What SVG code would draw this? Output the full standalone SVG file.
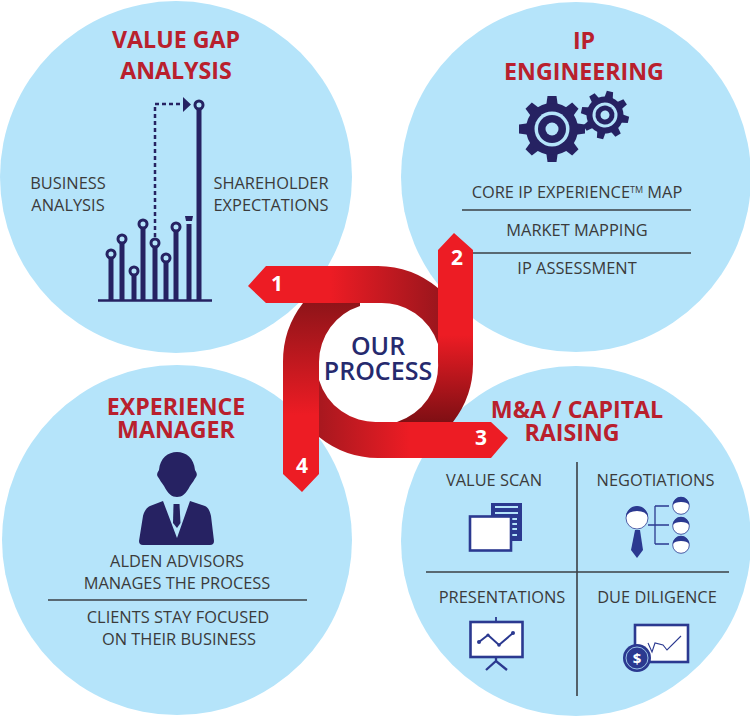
<svg xmlns="http://www.w3.org/2000/svg" xmlns:xlink="http://www.w3.org/1999/xlink" width="750" height="716" viewBox="0 0 750 716">
<style>
text{font-family:"Open Sans","Noto Sans","Liberation Sans",sans-serif;text-anchor:middle}
.c{fill:#b5e4fa}
.t{font-size:23.2px;font-weight:700;fill:#b9202d}
.l{font-size:16.400px;fill:#3b3b3b}
.n{font-size:21px;font-weight:700;fill:#fff}
.o{font-size:25px;font-weight:600;fill:#262a6e}
.r{stroke:#3b4046;stroke-width:1.600;fill:none}
.navy{fill:#262262}
.blue{fill:#2b3990}
.bar{stroke:#262262;stroke-width:5;fill:none}
.ring{fill:#b5e4fa;stroke:#262262;stroke-width:3}
.sb{stroke:#2b3990;fill:none}
.board{fill:#fff;stroke:#2b3990;stroke-width:2.600}
.face{fill:#fff;stroke:#2b3990;stroke-width:.8}
</style>
<defs>
<linearGradient id="g1" gradientUnits="userSpaceOnUse" x1="330" y1="0" x2="438" y2="0"><stop offset="0" stop-color="#ed1c24"/><stop offset="1" stop-color="#9c161d"/></linearGradient>
<linearGradient id="g2" gradientUnits="userSpaceOnUse" x1="0" y1="335" x2="0" y2="422"><stop offset="0" stop-color="#ed1c24"/><stop offset="1" stop-color="#7f0f14"/></linearGradient>
<linearGradient id="g3" gradientUnits="userSpaceOnUse" x1="319" y1="0" x2="410" y2="0"><stop offset="0" stop-color="#a8181f"/><stop offset="1" stop-color="#ed1c24"/></linearGradient>
<linearGradient id="g4" gradientUnits="userSpaceOnUse" x1="0" y1="303" x2="0" y2="415"><stop offset="0" stop-color="#8f1419"/><stop offset="1" stop-color="#ed1c24"/></linearGradient>
<path id="tb" d="M-6,-22L-4.500,-33H4.500L6,-22Z" class="navy"/>
<path id="ts" d="M-4.500,-15L-3.200,-24H3.200L4.500,-15Z" class="navy"/>
<g id="head"><circle r="8.300" class="face"/><path d="M-8.300,-1A8.300,8.300 0 0 1 8.300,-1Q6,-4 0,-4Q-6,-4 -8.300,-1Z" class="blue"/></g>
</defs>

<g id="value-gap">
<circle class="c" cx="176" cy="177" r="176"/>
<text class="t" x="176" y="48">VALUE GAP</text>
<text class="t" x="176" y="79">ANALYSIS</text>
<text class="l" x="68" y="189">BUSINESS</text>
<text class="l" x="68" y="211">ANALYSIS</text>
<text class="l" x="271" y="189">SHAREHOLDER</text>
<text class="l" x="271" y="211">EXPECTATIONS</text>
<path class="bar" d="M111,254V301M122,239V301M134,271V301M143,224V301M155,243V301M166,258V301M176,227V301M189,224V301M199,105V301"/>
<path d="M98,300.500H212" stroke="#262262" stroke-width="2.500"/>
<circle class="ring" cx="111" cy="254" r="4"/><circle class="ring" cx="122" cy="239" r="4"/><circle class="ring" cx="134" cy="271" r="4"/><circle class="ring" cx="143" cy="224" r="4"/><circle class="ring" cx="155" cy="243" r="4"/><circle class="ring" cx="166" cy="258" r="4"/><circle class="ring" cx="176" cy="227" r="4"/><circle class="ring" cx="199" cy="105" r="4"/>
<path class="navy" d="M185,216H193L192,221H186Z"/>
<path d="M155,237V104H183" fill="none" stroke="#262262" stroke-width="2.500" stroke-dasharray="4 3"/>
<path class="navy" d="M183,97L191,104.500L183,112Z"/>
</g>

<g id="ip-engineering">
<circle class="c" cx="576" cy="177" r="175"/>
<text class="t" x="584" y="49">IP</text>
<text class="t" x="584" y="80">ENGINEERING</text>
<g transform="translate(552,129)">
<use xlink:href="#tb"/><use xlink:href="#tb" transform="rotate(45)"/><use xlink:href="#tb" transform="rotate(90)"/><use xlink:href="#tb" transform="rotate(135)"/><use xlink:href="#tb" transform="rotate(180)"/><use xlink:href="#tb" transform="rotate(225)"/><use xlink:href="#tb" transform="rotate(270)"/><use xlink:href="#tb" transform="rotate(315)"/>
<circle r="26" class="navy"/><circle r="17.500" class="c"/><circle r="14" class="navy"/><circle r="6.500" class="c"/>
</g>
<g transform="translate(605,115) rotate(12)">
<use xlink:href="#ts"/><use xlink:href="#ts" transform="rotate(45)"/><use xlink:href="#ts" transform="rotate(90)"/><use xlink:href="#ts" transform="rotate(135)"/><use xlink:href="#ts" transform="rotate(180)"/><use xlink:href="#ts" transform="rotate(225)"/><use xlink:href="#ts" transform="rotate(270)"/><use xlink:href="#ts" transform="rotate(315)"/>
<circle r="18.500" class="navy"/><circle r="12.500" class="c"/><circle r="9.500" class="navy"/><circle r="4.500" class="c"/>
</g>
<text class="l" x="577" y="198">CORE IP EXPERIENCE<tspan font-size="9" dy="-5">TM</tspan><tspan dy="5"> MAP</tspan></text>
<path class="r" d="M462,210H691M473,253H691"/>
<text class="l" x="577" y="236">MARKET MAPPING</text>
<text class="l" x="577" y="274">IP ASSESSMENT</text>
</g>

<g id="experience-manager">
<circle class="c" cx="177" cy="540" r="175"/>
<text class="t" x="176" y="415">EXPERIENCE</text>
<text class="t" x="176" y="438">MANAGER</text>
<path class="navy" d="M158,477C156,474 158,472 159,470C160,458 168,452 177,452C186,452 194,458 195,470C196,472 198,474 196,477C194,480 193,482 190,486C186,494 182,497 177,497C172,497 168,494 164,486C161,482 160,480 158,477Z"/>
<path class="navy" d="M163,501L177,538L190,501L205,506C209,508 210,512 211,516L214,541Q214,545 210,545H143Q139,545 139,541L143,516C144,512 146,508 150,506Z"/>
<path class="navy" d="M173.500,504H179.500L180.500,523L177,528L173,523Z"/>
<text class="l" x="177" y="567">ALDEN ADVISORS</text>
<text class="l" x="177" y="589">MANAGES THE PROCESS</text>
<path class="r" d="M48,600H307"/>
<text class="l" x="178" y="623">CLIENTS STAY FOCUSED</text>
<text class="l" x="179" y="645">ON THEIR BUSINESS</text>
</g>

<g id="capital-raising">
<circle class="c" cx="576" cy="541" r="175"/>
<text class="t" x="577" y="418">M&amp;A / CAPITAL</text>
<text class="t" x="572" y="441">RAISING</text>
<path class="r" d="M577,462V696M426,572H729"/>
<text class="l" x="494" y="486">VALUE SCAN</text>
<text class="l" x="655.500" y="486">NEGOTIATIONS</text>
<text class="l" x="502" y="603">PRESENTATIONS</text>
<text class="l" x="657" y="603">DUE DILIGENCE</text>
<g id="icon-scan">
<rect class="blue" x="491" y="503" width="31" height="38"/>
<path d="M495,507H518M495,513H518M511,519H517M511,524H517M511,529H517M511,535H517" stroke="#b5e4fa" stroke-width="1.800"/>
<rect class="board" x="470" y="516.500" width="41" height="34"/>
</g>
<g id="icon-negotiations">
<circle cx="637" cy="518" r="11" class="face"/>
<path class="blue" d="M626,517A11,11 0 0 1 648,517Q646,511 637,511Q628,511 626,517Z"/>
<path class="blue" d="M635,530H640L643,550L637,558L631,550Z"/>
<path class="sb" stroke-width="1.300" d="M648,525H669M655,506H669M655,544H669M655,506V544"/>
<use xlink:href="#head" x="681" y="506"/><use xlink:href="#head" x="681" y="526"/><use xlink:href="#head" x="681" y="545"/>
</g>
<g id="icon-presentation">
<path class="sb" stroke-width="1.800" d="M496,617V622"/>
<rect class="board" x="470.500" y="622" width="52" height="35"/>
<path class="sb" stroke-width="2.300" d="M496,657V662M486,670L496,661L507,670"/>
<path class="sb" stroke-width="2" d="M479,642L488,635L499,645L513,633"/>
<circle class="blue" cx="479" cy="642" r="2"/><circle class="blue" cx="488" cy="635" r="1.600"/><circle class="blue" cx="499" cy="645" r="1.800"/><circle class="blue" cx="513" cy="633" r="2"/>
</g>
<g id="icon-diligence">
<rect class="board" x="635" y="625" width="53" height="37"/>
<path class="sb" stroke-width="1.100" d="M648,643L652,652L655,643L663,645L667,650L681,636"/>
<circle class="blue" cx="637" cy="658" r="14"/>
<circle cx="637" cy="658" r="11" fill="none" stroke="#b5e4fa" stroke-width=".8"/>
<text x="637" y="664" style="font-size:15px;font-weight:700;fill:#fff">$</text>
</g>
</g>

<g id="connectors">
<path id="band4" fill="url(#g4)" d="M303,303A95,95 0 0 0 283,362V474L302,492L319,474V362A59,59 0 0 1 360,306V303Z"/>
<path id="band3" fill="url(#g3)" d="M319,380A59,59 0 0 0 378,422H491L508,438L491,458H378A95,95 0 0 1 319,437Z"/>
<path id="band2" fill="url(#g2)" d="M438,250L454,233L473,250V362A95,95 0 0 1 453,422H397A59,59 0 0 0 438,362Z"/>
<path id="band1" fill="url(#g1)" d="M248,286L266,266H378A95,95 0 0 1 438,288V344A59,59 0 0 0 378,303H266Z"/>
<text class="n" x="277" y="291">1</text>
<text class="n" x="457" y="265">2</text>
<text class="n" x="481" y="445">3</text>
<text class="n" x="302" y="473">4</text>
</g>

<g id="center">
<text class="o" x="378" y="355">OUR</text>
<text class="o" x="378" y="380">PROCESS</text>
</g>
</svg>
